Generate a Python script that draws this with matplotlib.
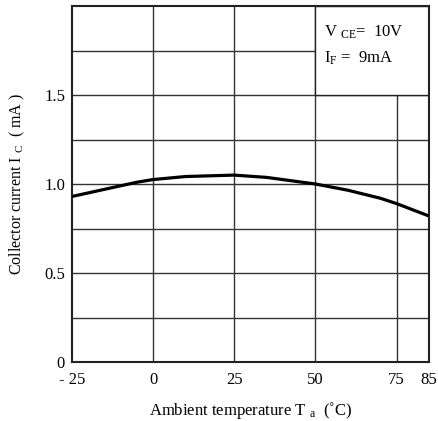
import matplotlib.pyplot as plt
import numpy as np

# values
temp = [-25, -15, -5, 0, 10, 25, 35, 50, 60, 70, 75, 85]
ic = [0.93, 0.97, 1.01, 1.025, 1.042, 1.05, 1.037, 1.0, 0.965, 0.92, 0.89, 0.82]

xticks = [-25, 0, 25, 50, 75, 85]
xticklabels = ["- 25", "0", "25", "50", "75", "85"]
yticks = [0, 0.5, 1.0, 1.5]
yticklabels = ["0", "0.5", "1.0", "1.5"]


def main():
    plt.rcParams['font.family'] = ['Liberation Serif', 'DejaVu Serif']
    plt.rcParams['mathtext.fontset'] = 'custom'
    plt.rcParams['mathtext.rm'] = 'Liberation Serif'
    plt.rcParams['mathtext.it'] = 'Liberation Serif'

    fig = plt.figure(figsize=(4.38, 4.21), dpi=100)
    ax = fig.add_axes([72 / 438, 1 - 362 / 421, 357 / 438, 356 / 421])

    for x in [0, 25, 50, 75]:
        ax.axvline(x, color="#333333", lw=1.0, zorder=1)
    for y in np.arange(0.25, 2.0, 0.25):
        ax.axhline(y, color="#333333", lw=1.0, zorder=1)

    # condition box covering the grid in the upper right
    ax.add_patch(plt.Rectangle((50, 1.5), 35, 0.5, facecolor="white",
                               edgecolor="#222222", lw=1.0, zorder=2))
    ax.text(52.5, 1.83, r"V $_{\rm CE}$=  10V", fontsize=12, zorder=3)
    ax.text(52.5, 1.68, r"I$_{\rm F}$ =  9mA", fontsize=12, zorder=3)

    ax.plot(temp, ic, color="black", lw=2.3, zorder=4, solid_capstyle="butt")

    ax.set_xlim(-25, 85)
    ax.set_ylim(0, 2.0)
    ax.set_xticks(xticks)
    ax.set_xticklabels(xticklabels)
    ax.set_yticks(yticks)
    ax.set_yticklabels(yticklabels)
    ax.tick_params(length=0, labelsize=12, pad=5)
    ax.tick_params(axis="x", pad=7)
    for s in ax.spines.values():
        s.set_linewidth(1.5)
        s.set_color("#222222")

    ax.set_xlabel(r"Ambient temperature T $_{\rm a}$  (˚C)", fontsize=12, labelpad=9)
    ax.set_ylabel(r"Collector current I $_{\rm C}$  ( mA )", fontsize=11.5, labelpad=12)

    fig.savefig("out.png", dpi=100)


if __name__ == "__main__":
    main()
